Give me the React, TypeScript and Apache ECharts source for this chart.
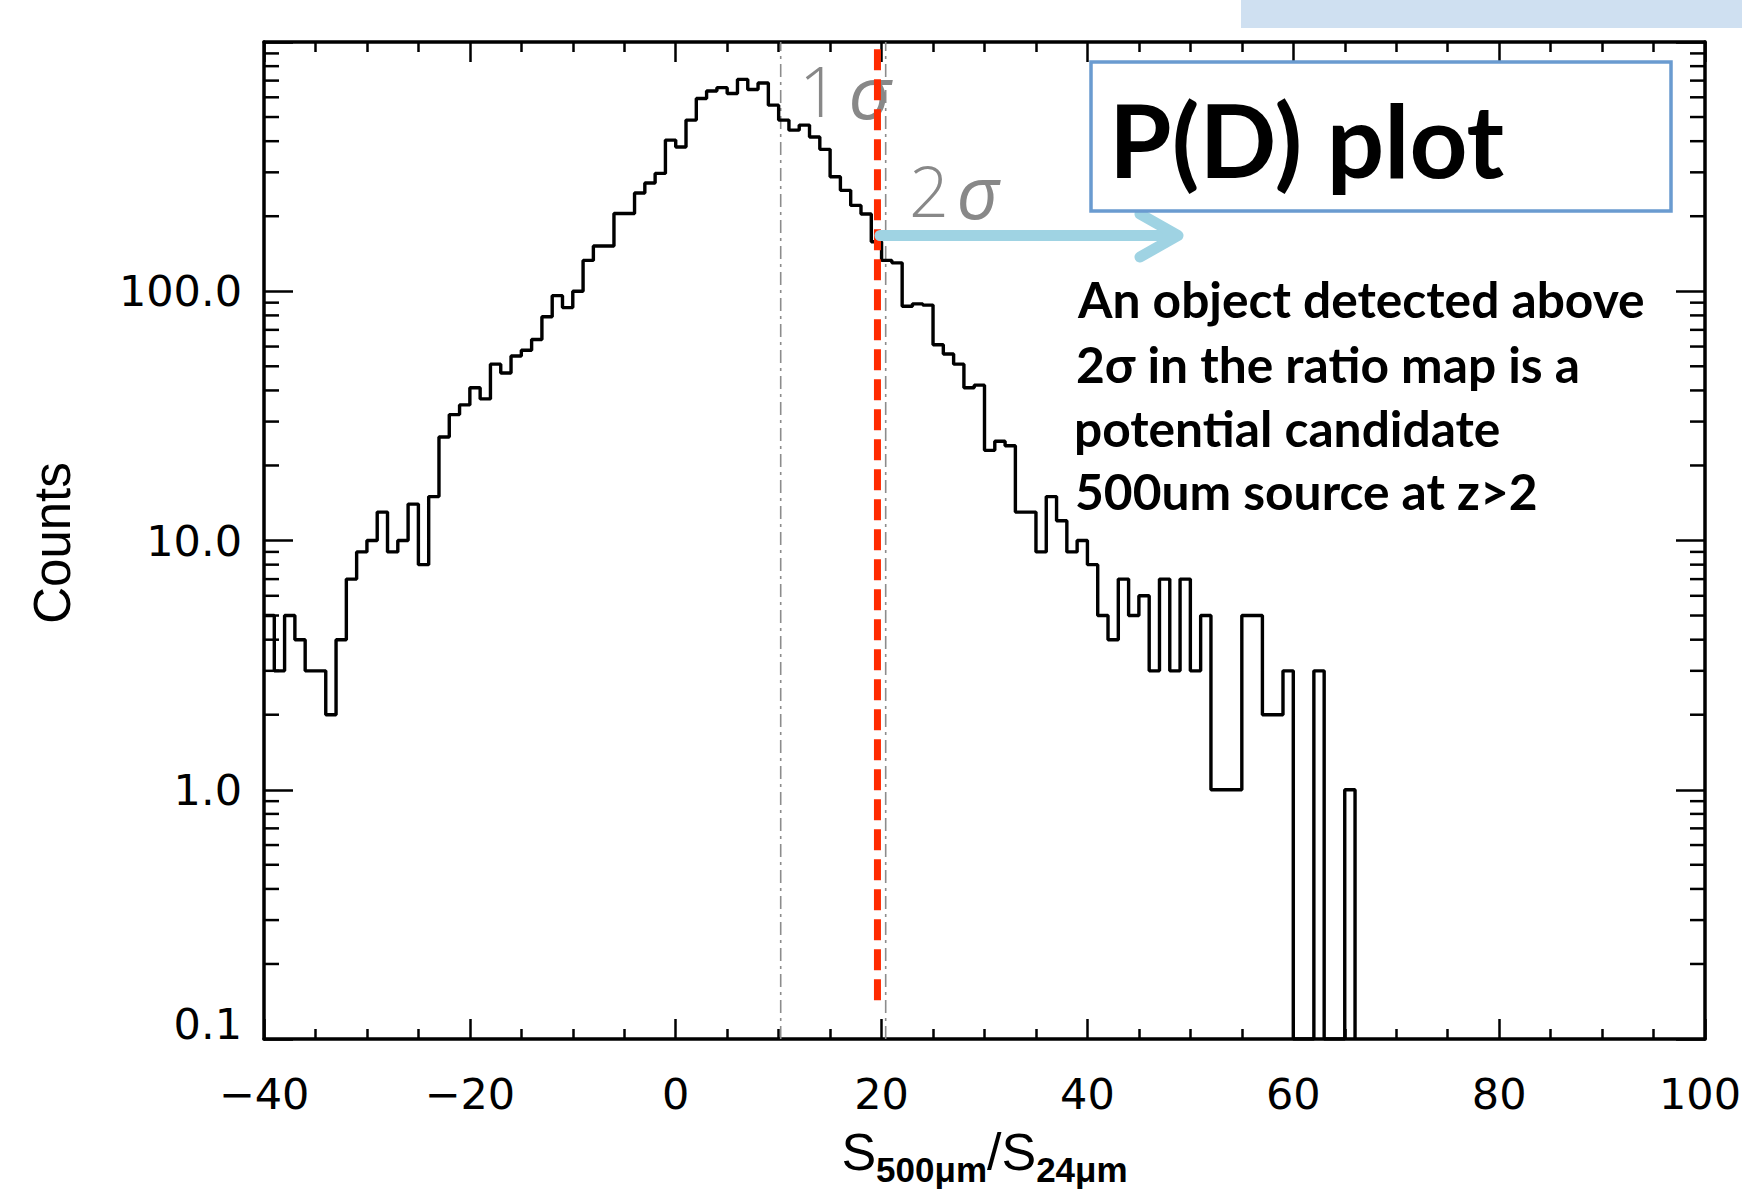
import React, { useEffect, useRef } from 'react';
import * as echarts from 'echarts';

// ---------------- data ----------------
const binStart = -40;
const binWidth = 1;
// counts per 1-unit bin, left edges -40 ... 65
const counts = [
  5, 3, 5, 4, 3, 3, 2, 4, 7, 9,
  10, 13, 9, 10, 14, 8, 15, 26, 32, 35,
  41, 37, 51, 47, 55, 58, 64, 79, 96, 86,
  100, 133, 152, 152, 205, 205, 248, 272, 297, 404,
  379, 486, 593, 636, 656, 621, 708, 645, 685, 558,
  486, 443, 464, 416, 371, 288, 254, 221, 204, 158,
  133, 130, 87, 89, 88, 61, 56, 51, 41, 42,
  23, 25, 24, 13, 13, 9, 15, 12, 9, 10,
  8, 5, 4, 7, 5, 6, 3, 7, 3, 7,
  3, 5, 1, 1, 1, 5, 5, 2, 2, 3,
  0, 0, 3, 0, 0, 1,
];
const sigmaPositions = [10.2, 20.4];
const sigmaLabels = ['1', '2'];
const cutValue = 19.6;
const cutExtent = [936, 0.133];
const yDecades = [0.1, 1, 10, 100];
const yMinorMultipliers = [2, 3, 4, 5, 6, 7, 8, 9];
const titleText = 'P(D) plot';
const noteLines = [
  'An object detected above',
  '2σ in the ratio map is a',
  'potential candidate',
  '500um source at z>2',
];
const yAxisTitle = 'Counts';
const xAxisTitleParts = [
  { t: 'S', sub: false },
  { t: '500μm', sub: true },
  { t: '/', sub: false },
  { t: 'S', sub: false },
  { t: '24μm', sub: true },
];

const X_MIN = -40;
const X_MAX = 100;
const Y_MIN = 0.1;
const Y_MAX = 1000;

// ---------------- helpers ----------------
const TICK_FONT = "'DejaVu Sans', 'Liberation Sans', sans-serif";
const LABEL_FONT = "'Liberation Sans', Arial, sans-serif";
const ANN_FONT = "Lato, 'Open Sans', 'Noto Sans', sans-serif";
const SIG_FONT = "'Open Sans', 'Liberation Sans', sans-serif";

let _ctx: CanvasRenderingContext2D | null = null;
function measure(text: string, font: string) {
  if (!_ctx) _ctx = document.createElement('canvas').getContext('2d');
  const c = _ctx!;
  c.font = font;
  const m = c.measureText(text);
  const asc = (m as any).fontBoundingBoxAscent ?? 0;
  const desc = (m as any).fontBoundingBoxDescent ?? 0;
  return {
    width: m.width,
    asc,
    desc,
    inkL: m.actualBoundingBoxLeft,
    inkR: m.actualBoundingBoxRight,
  };
}
function midFromBaseline(baseline: number, font: string) {
  const m = measure('Hg', font);
  return baseline - (m.asc - m.desc) / 2;
}

function stepPoints() {
  const pts: [number, number][] = [];
  counts.forEach((c, i) => {
    const x0 = binStart + i * binWidth;
    const x1 = x0 + binWidth;
    const v = c > 0 ? c : Y_MIN;
    pts.push([x0, v], [x1, v]);
  });
  pts.push([binStart + counts.length * binWidth, Y_MIN]);
  return pts;
}

function minorTickData() {
  const out: [number, number][] = [];
  yDecades.forEach((d) => yMinorMultipliers.forEach((m) => out.push([X_MIN, +(d * m).toPrecision(6)])));
  return out;
}

function buildGraphics() {
  const els: any[] = [];

  // top-right light blue strip (part of slide)
  els.push({ type: 'rect', shape: { x: 1241, y: 0, width: 501, height: 28 }, style: { fill: '#cfe0f1' }, z: 50 });

  // y-axis title
  els.push({
    type: 'text', x: 52, y: 543, rotation: Math.PI / 2, z: 50,
    style: { text: yAxisTitle, fontFamily: LABEL_FONT, fontSize: 51, fill: '#000', align: 'center', verticalAlign: 'middle' },
  });

  // x-axis title with subscripts
  const mainSize = 52;
  const subSize = 35;
  const mainFont = `normal ${mainSize}px ${LABEL_FONT}`;
  const subFont = `bold ${subSize}px ${LABEL_FONT}`;
  const widths = xAxisTitleParts.map((p) => measure(p.t, p.sub ? subFont : mainFont).width);
  const total = widths.reduce((a, b) => a + b, 0);
  let cx = 984.5 - total / 2;
  xAxisTitleParts.forEach((p, i) => {
    const font = p.sub ? subFont : mainFont;
    const base = p.sub ? 1182 : 1170;
    els.push({
      type: 'text', x: cx, y: midFromBaseline(base, font), z: 50,
      style: {
        text: p.t, fontFamily: LABEL_FONT, fontSize: p.sub ? subSize : mainSize, fontWeight: p.sub ? 'bold' : 'normal',
        fill: '#000', align: 'left', verticalAlign: 'middle',
      },
    });
    cx += widths[i];
  });

  // sigma labels
  const sigSize = 70;
  const sigFont = `300 ${sigSize}px ${SIG_FONT}`;
  const sigPlaces = [
    { numX: 819, sigX: 870, base: 117 },
    { numX: 929, sigX: 978, base: 217 },
  ];
  sigmaLabels.forEach((lab, i) => {
    const p = sigPlaces[i];
    const y = midFromBaseline(p.base, sigFont);
    els.push({
      type: 'text', x: p.numX, y, z: 4,
      style: { text: lab, fontFamily: SIG_FONT, fontSize: sigSize, fontWeight: 300, fill: '#888888', align: 'center', verticalAlign: 'middle' },
    });
    els.push({
      type: 'text', x: p.sigX, y, z: 4,
      style: { text: 'σ', fontFamily: SIG_FONT, fontSize: sigSize + 4, fontWeight: 'normal', fontStyle: 'italic', fill: '#888888', align: 'center', verticalAlign: 'middle' },
    });
  });

  // arrow
  const arrowColor = '#9fd3e3';
  els.push({
    type: 'line', z: 60,
    shape: { x1: 880, y1: 235.5, x2: 1176, y2: 235.5 },
    style: { stroke: arrowColor, lineWidth: 11, lineCap: 'round' },
  });
  els.push({
    type: 'polyline', z: 60,
    shape: { points: [[1140, 214], [1178, 235.5], [1140, 257]] },
    style: { stroke: arrowColor, lineWidth: 11, lineCap: 'round', lineJoin: 'round', fill: 'none' },
  });

  // title box
  els.push({
    type: 'rect', z: 60,
    shape: { x: 1091, y: 62, width: 580, height: 149 },
    style: { fill: '#ffffff', stroke: '#6a9bd0', lineWidth: 3.5 },
  });
  const tBase = measure(titleText, `bold 100px ${ANN_FONT}`);
  const tSize = (100 * 387) / (tBase.inkL + tBase.inkR);
  const tFont = `bold ${tSize}px ${ANN_FONT}`;
  const tm = measure(titleText, tFont);
  els.push({
    type: 'text', z: 61, x: 1117 + tm.inkL, y: midFromBaseline(178, tFont),
    style: { text: titleText, fontFamily: ANN_FONT, fontWeight: 'bold', fontSize: tSize, fill: '#000', align: 'left', verticalAlign: 'middle' },
  });

  // note text
  const nBase = measure(noteLines[0], `bold 100px ${ANN_FONT}`);
  const nSize = (100 * 566) / (nBase.inkL + nBase.inkR);
  const nFont = `bold ${nSize}px ${ANN_FONT}`;
  const baselines = [318, 383, 447, 510];
  noteLines.forEach((line, i) => {
    const m = measure(line, nFont);
    els.push({
      type: 'text', z: 61, x: 1077 + m.inkL, y: midFromBaseline(baselines[i], nFont),
      style: { text: line, fontFamily: ANN_FONT, fontWeight: 'bold', fontSize: nSize, fill: '#000', align: 'left', verticalAlign: 'middle' },
    });
  });

  return els;
}

function buildOption() {
  const axisLine = { show: true, onZero: false, lineStyle: { color: '#000', width: 3.5 } };
  const xTick = { show: true, inside: true, length: 20, lineStyle: { color: '#000', width: 2.5 } };
  const xMinor = { show: true, splitNumber: 4, length: 10, lineStyle: { color: '#000', width: 2.5 } };
  const yTick = { show: true, inside: true, length: 29, lineStyle: { color: '#000', width: 2.5 } };

  const series: any[] = [
    {
      type: 'line', name: 'hist', data: stepPoints(), symbol: 'none', silent: true,
      lineStyle: { color: '#000', width: 3.4 }, z: 5, xAxisIndex: 0, yAxisIndex: 0,
    },
  ];
  sigmaPositions.forEach((s) => {
    series.push({
      type: 'line', data: [[s, Y_MIN], [s, Y_MAX]], symbol: 'none', silent: true,
      lineStyle: { color: '#8c8c8c', width: 1.6, type: [13, 5, 3, 5] }, z: 3,
    });
  });
  series.push({
    type: 'line', data: [[cutValue, cutExtent[0]], [cutValue, cutExtent[1]]], symbol: 'none', silent: true,
    lineStyle: { color: '#ff2a00', width: 7, type: [21, 9] }, z: 10, clip: false,
  });
  series.push({
    type: 'custom', silent: true, z: 6, data: minorTickData(), encode: { x: 0, y: 1 },
    renderItem: (params: any, api: any) => {
      const v = api.value(1);
      const pl = api.coord([X_MIN, v]);
      const pr = api.coord([X_MAX, v]);
      return {
        type: 'group',
        children: [
          { type: 'line', shape: { x1: pl[0], y1: pl[1], x2: pl[0] + 15, y2: pl[1] }, style: { stroke: '#000', lineWidth: 2.5 } },
          { type: 'line', shape: { x1: pr[0] - 15, y1: pr[1], x2: pr[0], y2: pr[1] }, style: { stroke: '#000', lineWidth: 2.5 } },
        ],
      };
    },
  });

  return {
    animation: false,
    backgroundColor: '#ffffff',
    grid: { left: 264, right: 37, top: 42, bottom: 150, containLabel: false, outerBoundsMode: 'none' },
    xAxis: [
      {
        type: 'value', min: X_MIN, max: X_MAX, interval: 20, position: 'bottom',
        axisLine, axisTick: xTick, minorTick: xMinor, splitLine: { show: false }, minorSplitLine: { show: false },
        axisLabel: {
          margin: 33, fontSize: 43, fontFamily: TICK_FONT, color: '#000',
          formatter: (v: number) => {
            const s = v < 0 ? '\u2212' + Math.abs(v) : String(v);
            return v >= X_MAX ? '{edge|' + s + '}' : s;
          },
          rich: { edge: { fontSize: 43, fontFamily: TICK_FONT, color: '#000', padding: [0, 10, 0, 0] } },
        },
      },
      {
        type: 'value', min: X_MIN, max: X_MAX, interval: 20, position: 'top',
        axisLine, axisTick: xTick, minorTick: xMinor, splitLine: { show: false },
        axisLabel: { show: false },
      },
    ],
    yAxis: [
      {
        type: 'log', logBase: 10, min: Y_MIN, max: Y_MAX, position: 'left',
        axisLine, axisTick: yTick, splitLine: { show: false },
        axisLabel: {
          margin: 22, fontSize: 43, fontFamily: TICK_FONT, color: '#000',
          formatter: (v: number) => {
            const k = Math.round(Math.log10(v));
            if (k >= 3) return '';
            const s = Math.pow(10, k).toFixed(1);
            return k < 0 ? '{low|' + s + '}' : s;
          },
          rich: { low: { fontSize: 43, fontFamily: TICK_FONT, color: '#000', padding: [0, 0, 30, 0] } },
        },
      },
      {
        type: 'log', logBase: 10, min: Y_MIN, max: Y_MAX, position: 'right',
        axisLine, axisTick: yTick, splitLine: { show: false },
        axisLabel: { show: false },
      },
    ],
    series,
    graphic: { elements: buildGraphics() },
  };
}

export default function App() {
  const ref = useRef<HTMLDivElement>(null);
  useEffect(() => {
    if (!ref.current) return;
    const chart = echarts.init(ref.current, null, { renderer: 'svg' });
    chart.setOption(buildOption() as any);
    return () => chart.dispose();
  }, []);
  return (
    <div
      ref={ref}
      style={{ position: 'fixed', left: 0, top: 0, width: 1742, height: 1189, background: '#fff' }}
    />
  );
}
